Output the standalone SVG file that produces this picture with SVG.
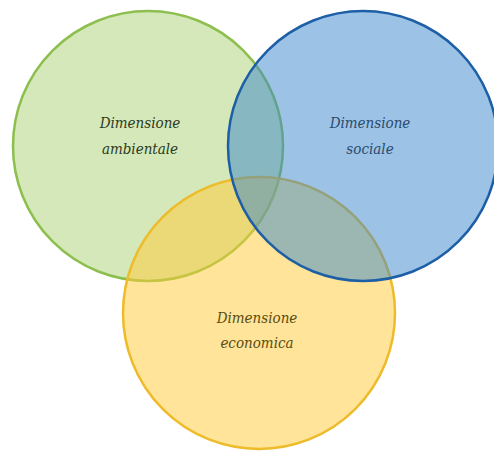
<svg xmlns="http://www.w3.org/2000/svg" width="494" height="455" viewBox="0 0 494 455">
<style>
.c{stroke-width:2.5}
text{font-family:'DejaVu Serif',serif;font-style:italic;font-stretch:condensed;font-size:15px;text-anchor:middle}
</style>
<rect width="494" height="455" fill="#ffffff"/>
<g id="ambientale">
<circle class="c" cx="148" cy="146" r="135" fill="#abd173" fill-opacity="0.5" stroke="#8cbf4e"/>
</g>
<g id="economica">
<circle class="c" cx="259" cy="313" r="136" fill="#ffc933" fill-opacity="0.5" stroke="#eebb2a"/>
</g>
<g id="sociale">
<circle class="c" cx="363" cy="146" r="135" fill="#3a87cb" fill-opacity="0.5" stroke="#1d5fa6"/>
</g>
<g id="labels">
<text x="140" y="128" fill="#2b3a22">Dimensione</text>
<text x="140" y="154" fill="#2b3a22">ambientale</text>
<text x="370" y="128" fill="#2a4a6e">Dimensione</text>
<text x="370" y="154" fill="#2a4a6e">sociale</text>
<text x="257" y="323" fill="#5a4c12">Dimensione</text>
<text x="257" y="348" fill="#5a4c12">economica</text>
</g>
</svg>
